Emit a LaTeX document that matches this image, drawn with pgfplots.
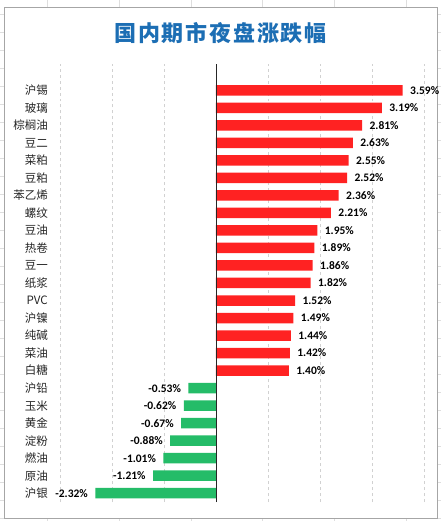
\documentclass[border=0pt]{standalone}
\usepackage{pgfplots}
\pgfplotsset{compat=1.18}
\usepackage{fontspec}
\setmainfont{Carlito}
\newfontfamily\cjk{Noto Sans CJK SC}
\definecolor{barred}{RGB}{255,34,34}
\definecolor{bargreen}{RGB}{36,188,104}
\definecolor{titleblue}{RGB}{28,110,180}
\begin{document}
\begin{tikzpicture}
\useasboundingbox (0,0) rectangle (441bp,521bp);
\foreach \x in {47,119,191,262,334,406} \draw[black!13,line width=0.6bp] (\x bp,0) -- (\x bp,521bp);
\foreach \k in {0,...,28} \draw[black!13,line width=0.6bp] (0,{(507-18*\k)*1bp}) -- (441bp,{(507-18*\k)*1bp});
\filldraw[fill=white, draw=black!35, line width=0.8bp] (4bp,3bp) rectangle (437bp,514bp);
\node[text=titleblue, font={\cjk\bfseries\addfontfeature{LetterSpace=8}\fontsize{22bp}{26bp}\selectfont}] at (220.5bp,488bp) {国内期市夜盘涨跌幅};
\begin{axis}[
  at={(60bp,19bp)}, anchor=south west, scale only axis,
  width=364bp, height=438bp,
  xmin=-3, xmax=4, ymin=-0.5, ymax=24.5,
  xbar, bar width=10.5bp, bar shift=0pt,
  axis line style={draw=none},
  xtick={-3,...,4}, xticklabels={},
  xmajorgrids, grid style={dashed, black!18, line width=0.7bp},
  major tick length=0pt,
  ytick={0,...,23},
  yticklabels={沪银,原油,燃油,淀粉,黄金,玉米,沪铅,白糖,菜油,纯碱,沪镍,PVC,纸浆,豆一,热卷,豆油,螺纹,苯乙烯,豆粕,菜粕,豆二,棕榈油,玻璃,沪锡},
  yticklabel style={font={\cjk\fontsize{11.5bp}{13bp}\selectfont}, text=black!85, anchor=east, inner sep=0pt, xshift=-12bp},
  /pgf/number format/assume math mode=true,
  nodes near coords={\pgfmathprintnumber[fixed,fixed zerofill,precision=2,assume math mode=true]{\pgfplotspointmeta}\%},
  point meta=x,
  every node near coord/.append style={font={\bfseries\fontsize{11.5bp}{13bp}\selectfont}, text=black},
  clip=false,
]
\addplot[fill=barred, draw=none, nodes near coords style={anchor=west, xshift=4bp}] coordinates {
(3.59,23) (3.19,22) (2.81,21) (2.63,20) (2.55,19) (2.52,18) (2.36,17) (2.21,16)
(1.95,15) (1.89,14) (1.86,13) (1.82,12) (1.52,11) (1.49,10) (1.44,9) (1.42,8) (1.40,7)
};
\addplot[fill=bargreen, draw=none, nodes near coords style={anchor=east, xshift=-4bp}] coordinates {
(-0.53,6) (-0.62,5) (-0.67,4) (-0.88,3) (-1.01,2) (-1.21,1) (-2.32,0)
};
\draw[black!85, line width=0.9bp] (axis cs:0,-0.5) -- (axis cs:0,24.5);
\end{axis}
\end{tikzpicture}
\end{document}
